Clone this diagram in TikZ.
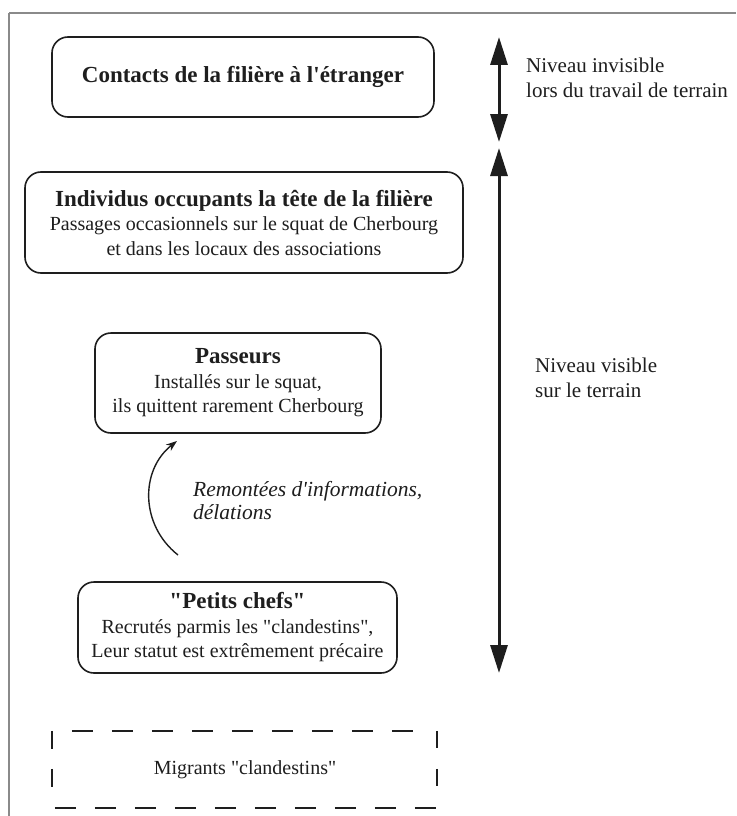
\documentclass[tikz,border=0pt]{standalone}
\usepackage{fontspec}
\setmainfont{Liberation Serif}[Ligatures=TeXOff]
\usetikzlibrary{arrows.meta,calc}
\definecolor{ink}{HTML}{1E1E1E}
\definecolor{framegray}{HTML}{8A8A8A}
\tikzset{
  box/.style={draw=ink, line width=1.6pt, rounded corners=16pt, align=center,
    text=ink, inner sep=0pt, font=\fontsize{20}{24.5}\selectfont},
  sidelabel/.style={anchor=west, align=left, text=ink, inner sep=0pt,
    font=\fontsize{21}{24.5}\selectfont},
  levelarrow/.style={ink, line width=3pt, {Triangle[length=28pt,width=17pt]}-{Triangle[length=28pt,width=17pt]}},
  dashside/.style={ink, line width=2pt},
}
\begin{document}
\begin{tikzpicture}[x=1pt,y=-1pt]
\useasboundingbox (0,0) rectangle (736,816);
\fill[white] (0,0) rectangle (736,816);
% frame
\draw[framegray, line width=1.5pt] (9,13) -- (736,13);
\draw[framegray, line width=1.5pt] (9,13) -- (9,816);

% boxes
\node[box, minimum width=382pt, minimum height=80pt] (contacts) at (243,77)
  {{\fontsize{23}{25}\selectfont\bfseries Contacts de la filière à l'étranger}};
\node[box, minimum width=438pt, minimum height=101pt] (tete) at (244,222.5)
  {{\fontsize{23}{25}\selectfont\bfseries Individus occupants la tête de la filière}\\Passages occasionnels sur le squat de Cherbourg\\et dans les locaux des associations};
\node[box, minimum width=286pt, minimum height=100pt] (passeurs) at (238,383)
  {{\fontsize{23}{25}\selectfont\bfseries Passeurs}\\Installés sur le squat,\\ils quittent rarement Cherbourg};
\node[box, minimum width=319pt, minimum height=91pt] (chefs) at (237.5,627.5)
  {{\fontsize{23}{25}\selectfont\bfseries "Petits chefs"}\\Recrutés parmis les "clandestins",\\Leur statut est extrêmement précaire};

% migrants dashed box
\node[inner sep=0pt, minimum width=386pt, minimum height=77pt, text=ink,
  font=\fontsize{20}{24}\selectfont] (mig) at (245,769.5) {Migrants "clandestins"};
\draw[dashside, dash pattern=on 21pt off 19pt] ([xshift=20pt]mig.north west) -- ([xshift=-18pt]mig.north east);
\draw[dashside, dash pattern=on 21pt off 19pt] ([xshift=3pt]mig.south west) -- (mig.south east);
\draw[dashside, dash pattern=on 17pt off 21pt] ([xshift=-1pt]mig.north east) -- ([xshift=-1pt,yshift=8pt]mig.south east);
\draw[dashside, dash pattern=on 18pt off 20pt] (mig.north west) -- ([yshift=8pt]mig.south west);

% level arrows
\coordinate (a1t) at (499,37);
\coordinate (a1b) at (499,142);
\coordinate (a2t) at (499,148);
\coordinate (a2b) at (499,673);
\draw[levelarrow] (a1t) -- (a1b);
\draw[levelarrow] (a2t) -- (a2b);
\node[sidelabel] (inv) at (526,78) {Niveau invisible\\lors du travail de terrain};
\node[sidelabel] (vis) at (535,378) {Niveau visible\\sur le terrain};

% remontées arrow
\coordinate (cs) at (178,555);
\coordinate (ce) at (177,441);
\draw[ink, line width=1.4pt, -{Stealth[length=11pt,width=8pt]}] (cs) .. controls (140,525) and (140,470) .. (ce);
\node[sidelabel, font=\fontsize{21.5}{23}\selectfont\itshape] (rem) at (193,501)
  {Remontées d'informations,\\délations};
\end{tikzpicture}
\end{document}
